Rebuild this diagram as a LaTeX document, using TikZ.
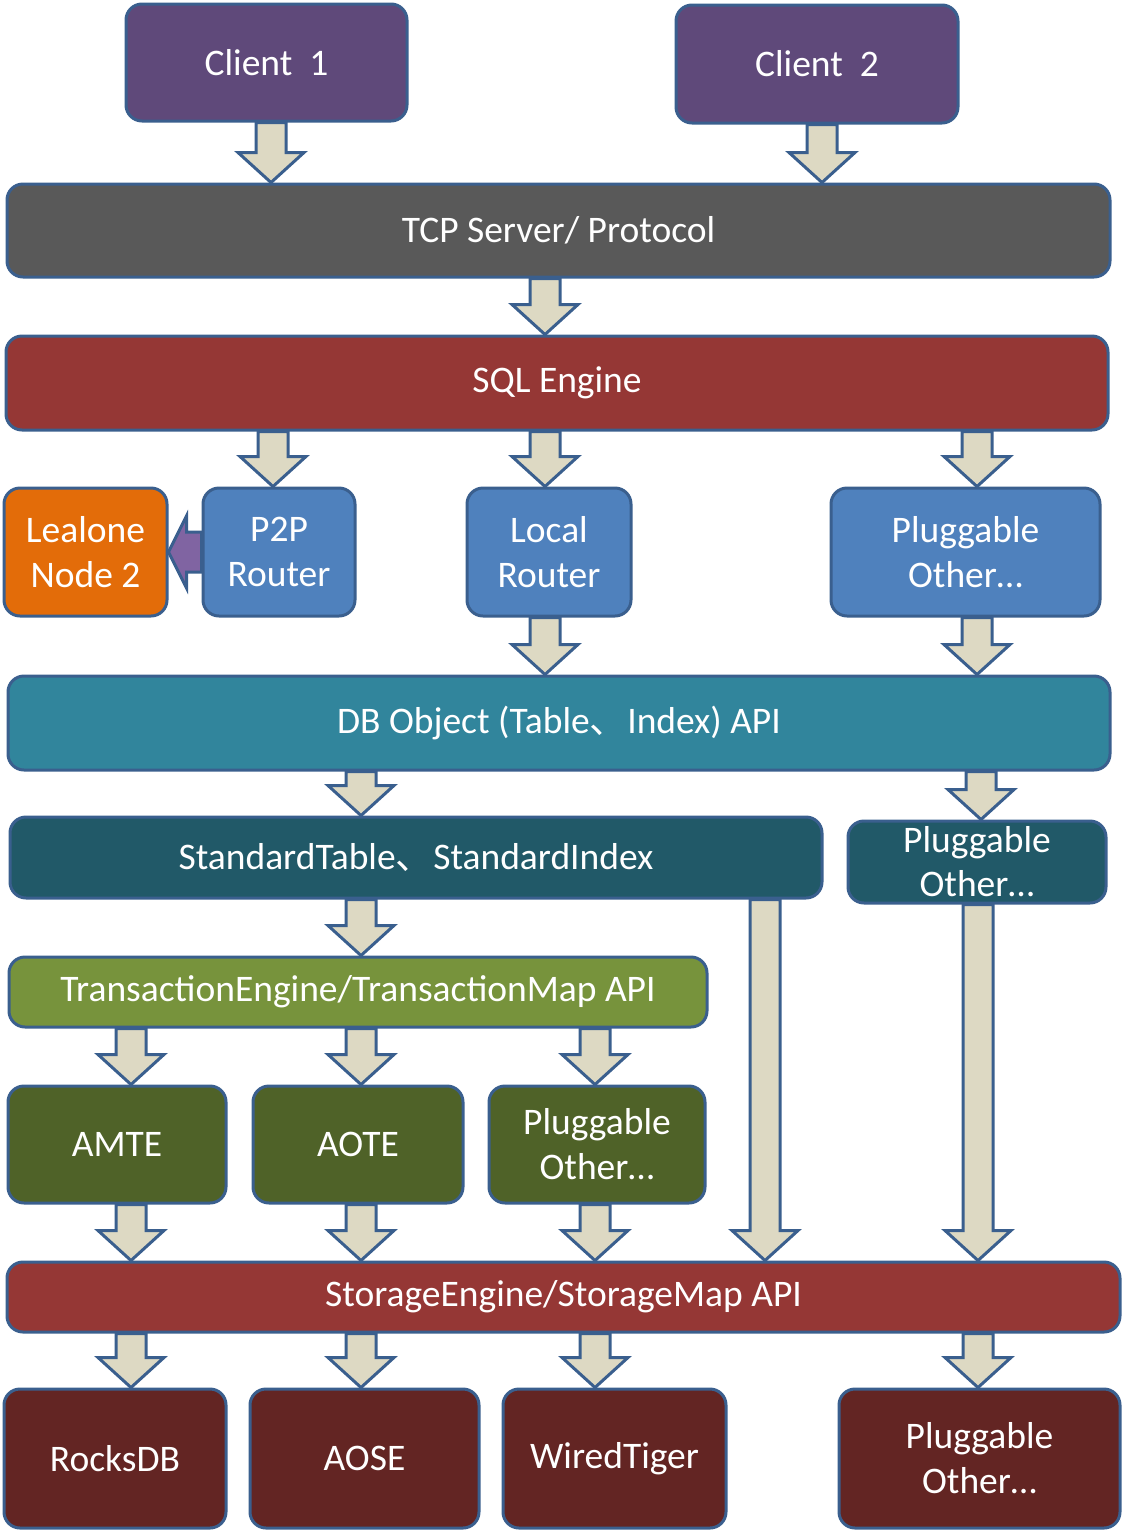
\documentclass[tikz,border=0pt]{standalone}
\usepackage{fontspec}
\setmainfont{Carlito}
\newfontfamily\cjk{Noto Sans CJK SC}
\usepackage{tikz}
\usetikzlibrary{calc}

\definecolor{bordc}{HTML}{3A5F8E}
\definecolor{clientc}{HTML}{5F497A}
\definecolor{tcpc}{HTML}{595959}
\definecolor{sqlc}{HTML}{953735}
\definecolor{nodec}{HTML}{E36C09}
\definecolor{routerc}{HTML}{4F81BD}
\definecolor{sidec}{HTML}{8064A2}
\definecolor{apic}{HTML}{31859C}
\definecolor{tablec}{HTML}{215968}
\definecolor{txnc}{HTML}{77933C}
\definecolor{tec}{HTML}{4F6228}
\definecolor{sec}{HTML}{632523}
\definecolor{arrc}{HTML}{DDD9C3}

\tikzset{
  box/.style={draw=bordc, line width=3pt, rounded corners=16pt, text=white,
    align=center, inner sep=0pt, font=\fontsize{37.5}{45}\selectfont},
  sz/.style 2 args={minimum width=#1pt, minimum height=#2pt},
  blkarr/.style={draw=bordc, fill=arrc, line width=3pt, line join=miter},
  sidearr/.style={draw=bordc, fill=sidec, line width=3pt, line join=miter}
}

% 块状箭头: #1 横坐标, #2 起点锚点, #3 终点锚点
\newcommand{\blkarrow}[3]{%
  \coordinate (s) at (#2 -| #1,0);
  \coordinate (e) at (#3 -| #1,0);
  \filldraw[blkarr] ($(s)+(-15,0)$) -- ($(e)+(-15,-30)$) -- ($(e)+(-33,-30)$) -- (e)
    -- ($(e)+(33,-30)$) -- ($(e)+(15,-30)$) -- ($(s)+(15,0)$) -- cycle;
}

\begin{document}
\begin{tikzpicture}[x=1pt, y=-1pt]
\useasboundingbox (0,0) rectangle (1123,1532);     %画布大小与原图一致

% 客户端与协议层
\node[box, fill=clientc, sz={281}{117}] (client1) at (266.5,62.5) {Client\ \ 1};
\node[box, fill=clientc, sz={282}{118}] (client2) at (817,64) {Client\ \ 2};
\node[box, fill=tcpc, sz={1103}{93}] (tcp) at (558.5,230.5) {TCP Server/ Protocol};
\node[box, fill=sqlc, sz={1102}{94}] (sql) at (557,383) {SQL Engine};

% 路由层
\node[box, fill=nodec, sz={163}{128}] (lealone) at (85.5,552) {Lealone\\Node 2};
\node[box, fill=routerc, sz={152}{128}] (p2p) at (279,552) {P2P\\Router};
\node[box, fill=routerc, sz={164}{128}] (local) at (549,552) {Local\\Router};
\node[box, fill=routerc, sz={269}{128}] (plugrt) at (965.5,552) {Pluggable\\Other…};

% 对象与表层
\node[box, fill=apic, sz={1102}{94}] (dbapi) at (559,723) {DB Object (Table{\cjk 、}Index) API};
\node[box, fill=tablec, sz={812}{81}] (stdtab) at (416,857.5) {StandardTable{\cjk 、}StandardIndex};
\node[box, fill=tablec, sz={258}{82}, font=\fontsize{37.5}{44}\selectfont] (plugtab) at (977,862) {Pluggable\\Other…};

% 事务层
\node[box, fill=txnc, sz={698}{70}] (txn) at (358,992) {TransactionEngine/TransactionMap API};
\node[box, fill=tec, sz={218}{117}] (amte) at (117,1144.5) {AMTE};
\node[box, fill=tec, sz={210}{117}] (aote) at (358,1144.5) {AOTE};
\node[box, fill=tec, sz={216}{117}] (plugtx) at (597,1144.5) {Pluggable\\Other…};

% 存储层
\node[box, fill=sqlc, sz={1113}{70}] (storage) at (563.5,1297) {StorageEngine/StorageMap API};
\node[box, fill=sec, sz={222}{139}] (rocks) at (115,1458.5) {RocksDB};
\node[box, fill=sec, sz={229}{139}] (aose) at (364.5,1458.5) {AOSE};
\node[box, fill=sec, sz={223}{139}] (wired) at (614.5,1458.5) {WiredTiger};
\node[box, fill=sec, sz={281}{139}] (plugst) at (979.5,1458.5) {Pluggable\\Other…};

% 箭头
\blkarrow{271}{client1.south}{tcp.north}
\blkarrow{822}{client2.south}{tcp.north}
\blkarrow{545}{tcp.south}{sql.north}
\blkarrow{273}{sql.south}{p2p.north}
\blkarrow{545}{sql.south}{local.north}
\blkarrow{977}{sql.south}{plugrt.north}
\blkarrow{545}{local.south}{dbapi.north}
\blkarrow{977}{plugrt.south}{dbapi.north}
\blkarrow{361}{dbapi.south}{stdtab.north}
\blkarrow{981}{dbapi.south}{plugtab.north}
\blkarrow{361}{stdtab.south}{txn.north}
\blkarrow{765}{stdtab.south}{storage.north}
\blkarrow{978}{plugtab.south}{storage.north}
\blkarrow{131}{txn.south}{amte.north}
\blkarrow{361}{txn.south}{aote.north}
\blkarrow{595}{txn.south}{plugtx.north}
\blkarrow{131}{amte.south}{storage.north}
\blkarrow{361}{aote.south}{storage.north}
\blkarrow{595}{plugtx.south}{storage.north}
\blkarrow{131}{storage.south}{rocks.north}
\blkarrow{361}{storage.south}{aose.north}
\blkarrow{595}{storage.south}{wired.north}
\blkarrow{978}{storage.south}{plugst.north}

% P2P 指向 Lealone 的侧向箭头
\filldraw[sidearr] ($(p2p.west)+(0,-20)$) -- ($(lealone.east)+(18,-20)$) -- ($(lealone.east)+(18,-36)$)
  -- (lealone.east) -- ($(lealone.east)+(18,36)$) -- ($(lealone.east)+(18,20)$)
  -- ($(p2p.west)+(0,20)$) -- cycle;
\end{tikzpicture}
\end{document}
